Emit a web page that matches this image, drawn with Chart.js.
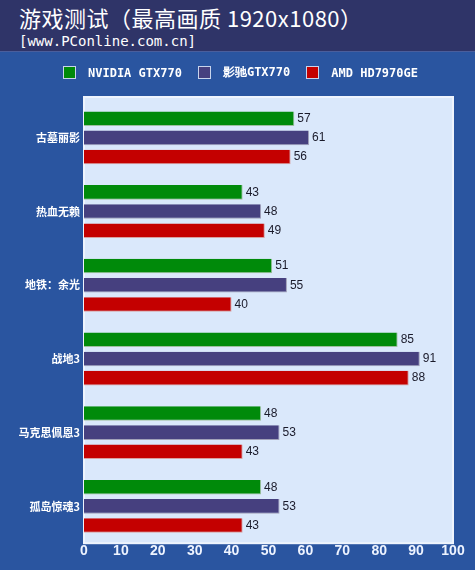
<!DOCTYPE html>
<html>
<head>
<meta charset="utf-8">
<script src="https://cdn.jsdelivr.net/npm/chart.js@4/dist/chart.umd.min.js"></script>
<style>
    html, body { margin: 0; padding: 0; }
    body { width: 475px; height: 570px; overflow: hidden; background: #2a55a0; }
    .header {
        height: 52px;
        background: #2f3468;
        color: #ffffff;
        padding-left: 19px;
        box-sizing: border-box;
        border-bottom: 1px solid #4a5e9c;
    }
    .header h1 {
        margin: 0;
        padding-top: 4px;
        font-family: "Noto Sans CJK SC", sans-serif;
        font-weight: normal;
        font-size: 22px;
        line-height: 26px;
        letter-spacing: 0.5px;
    }
    .header .site {
        padding-top: 4px;
        font-family: "DejaVu Sans Mono", monospace;
        font-size: 14px;
        line-height: 15px;
    }
    .wrap { position: relative; width: 475px; height: 518px; }
    #gameChart { display: block; }
    .legend {
        position: absolute;
        left: 0; top: 12px; width: 475px;
        display: flex; justify-content: center; align-items: center;
        padding-left: 6px; box-sizing: border-box;
        font-family: "DejaVu Sans Mono", monospace;
        font-size: 12px; font-weight: bold; color: #ffffff;
    }
    .legend .item { display: flex; align-items: center; margin: 0 8px; }
    .legend .box {
        width: 11px; height: 11px; margin-right: 12px;
        border: 1px solid #c8d4ec;
    }
</style>
</head>
<body>
<div class="header">
    <h1>游戏测试（最高画质 1920x1080）</h1>
    <div class="site">[www.PConline.com.cn]</div>
</div>
<div class="wrap">
    <canvas id="gameChart" width="475" height="518"></canvas>
    <div class="legend" id="legend"></div>
</div>
<script>
// games tested
const games = ['古墓丽影', '热血无赖', '地铁：余光', '战地3', '马克思佩恩3', '孤岛惊魂3'];
// cards and fps per card
const cards = ['NVIDIA GTX770', '影驰GTX770', 'AMD HD7970GE'];
const nvidiaGtx770 = [57, 43, 51, 85, 48, 48];
const galaxyGtx770 = [61, 48, 55, 91, 53, 53];
const amdHd7970ge = [56, 49, 40, 88, 43, 43];
const xTicks = [0, 10, 20, 30, 40, 50, 60, 70, 80, 90, 100];
const cardColors = ['#008a0a', '#46407f', '#c40000'];
const cardEdges = ['#9fbf9f', '#a0a0b8', '#d8a0a0'];

document.addEventListener('DOMContentLoaded', () => {
    const ctx = document.getElementById('gameChart');

    // light blue plot background (reaches a bit above the first group, like the original)
    const plotBg = {
        id: 'plotBg',
        beforeDatasetsDraw(chart) {
            const a = chart.chartArea;
            const c = chart.ctx;
            const top = a.top - 4;
            c.save();
            c.fillStyle = '#dae8fb';
            c.fillRect(a.left, top, a.right - a.left, a.bottom - top);
            c.strokeStyle = '#eef4fd';
            c.lineWidth = 2;
            c.strokeRect(a.left, top, a.right - a.left, a.bottom - top);
            c.restore();
        }
    };

    // value next to each bar
    const valueLabels = {
        id: 'valueLabels',
        afterDatasetsDraw(chart) {
            const c = chart.ctx;
            c.save();
            c.font = '12px "Liberation Sans", sans-serif';
            c.fillStyle = '#1a1a2a';
            c.textBaseline = 'middle';
            chart.data.datasets.forEach((ds, i) => {
                chart.getDatasetMeta(i).data.forEach((bar, j) => {
                    c.fillText(ds.data[j], bar.x + 3, bar.y);
                });
            });
            c.restore();
        }
    };

    const series = [nvidiaGtx770, galaxyGtx770, amdHd7970ge];

    const chart = new Chart(ctx, {
        type: 'bar',
        data: {
            labels: games,
            datasets: series.map((values, i) => ({
                label: cards[i],
                data: values,
                backgroundColor: cardColors[i],
                borderColor: cardEdges[i],
                borderWidth: { right: 1, bottom: 1 }
            }))
        },
        options: {
            indexAxis: 'y',
            responsive: false,
            animation: false,
            devicePixelRatio: 1,
            layout: { padding: { top: 49, right: 22, bottom: 10, left: 0 } },
            datasets: {
                bar: { categoryPercentage: 0.78, barPercentage: 0.76 }
            },
            scales: {
                x: {
                    min: 0,
                    max: 100,
                    afterBuildTicks: scale => { scale.ticks = xTicks.map(v => ({ value: v })); },
                    grid: { display: false, drawTicks: false },
                    border: { display: false },
                    ticks: {
                        color: '#eef4ff',
                        padding: 0,
                        maxRotation: 0,
                        font: { family: 'Liberation Sans', size: 14, weight: 'bold' }
                    }
                },
                y: {
                    grid: { display: false, drawTicks: false },
                    border: { display: false },
                    afterFit: scale => { scale.width = 84; },
                    ticks: {
                        color: '#ffffff',
                        padding: 4,
                        font: { family: 'Noto Sans CJK SC', size: 11, weight: 'bold' }
                    }
                }
            },
            plugins: {
                legend: { display: false },
                tooltip: { enabled: false }
            }
        },
        plugins: [plotBg, valueLabels]
    });

    // legend row built from the datasets
    const legend = document.getElementById('legend');
    chart.data.datasets.forEach(ds => {
        const item = document.createElement('div');
        item.className = 'item';
        const box = document.createElement('span');
        box.className = 'box';
        box.style.background = ds.backgroundColor;
        const text = document.createElement('span');
        text.textContent = ds.label;
        item.appendChild(box);
        item.appendChild(text);
        legend.appendChild(item);
    });
});
</script>
</body>
</html>
